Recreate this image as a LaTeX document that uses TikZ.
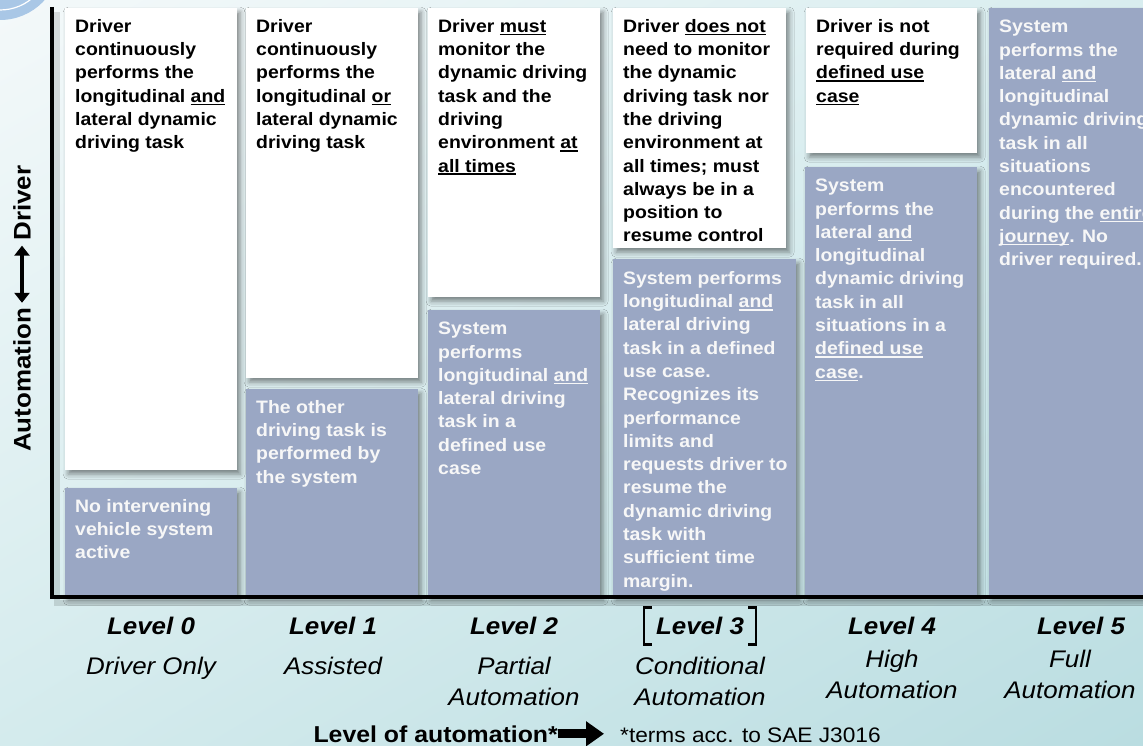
\documentclass[tikz,border=0pt]{standalone}
\usepackage{fontspec}
\setmainfont{Liberation Sans}[FakeStretch=1.08]
\usetikzlibrary{arrows.meta,shadows.blur,shadings}
\definecolor{sysblue}{HTML}{9AA7C4}
\definecolor{systext}{HTML}{F7F7F7}
\definecolor{logoblue}{HTML}{A9C7E6}
\definecolor{bgtl}{HTML}{F4F9FA}
\definecolor{bgtr}{HTML}{D8EDEF}
\definecolor{bgbl}{HTML}{D4EBED}
\definecolor{bgbr}{HTML}{BADDE1}
\newsavebox{\ulbox}
\newcommand{\ulw}[1]{\sbox\ulbox{#1}\rlap{\rule[-3pt]{\wd\ulbox}{1.6pt}}\usebox\ulbox}

\begin{document}
\begin{tikzpicture}[x=1pt,y=-1pt,
  drvbox/.style={fill=white, anchor=north west, minimum width=172, inner sep=0,
    blur shadow={shadow xshift=3pt, shadow yshift=-4pt, shadow blur radius=5pt, shadow opacity=45}},
  sysbox/.style={drvbox, fill=sysblue},
  drvtxt/.style={anchor=north west, inner sep=0, align=left, text=black,
    font=\fontsize{18}{23.3}\selectfont\bfseries},
  systxt/.style={drvtxt, text=systext},
  lvl/.style={anchor=base, inner sep=0, font=\fontsize{24}{30}\selectfont\bfseries\itshape},
  lvlname/.style={anchor=north, inner sep=0, align=center, font=\fontsize{24}{31}\selectfont\itshape},
  axislabel/.style={rotate=90, inner sep=0, font=\fontsize{24}{30}\selectfont\bfseries}]
\useasboundingbox (0,0) rectangle (1143,746);
\shade[upper left=bgtl, upper right=bgtr, lower left=bgbl, lower right=bgbr] (0,0) rectangle (1143,746);
% logo corner
\fill[logoblue] (0,-40) circle (60);
\draw[white, line width=1.2pt] (0,-40) circle (50);

% boxes: driver on top, system below
\node[drvbox, minimum height=462] (d0) at (65,8) {};
\node[sysbox, minimum height=108] (s0) at (65,488) {};
\node[drvbox, minimum height=370] (d1) at (246,8) {};
\node[sysbox, minimum height=207] (s1) at (246,389) {};
\node[drvbox, minimum height=289] (d2) at (428,8) {};
\node[sysbox, minimum height=286] (s2) at (428,310) {};
\node[drvbox, minimum width=173, minimum height=240] (d3) at (613,8) {};
\node[sysbox, minimum width=183, minimum height=337] (s3) at (613,259) {};
\node[drvbox, minimum width=171, minimum height=145] (d4) at (806,8) {};
\node[sysbox, minimum height=429] (s4) at (805,167) {};
\node[sysbox, minimum height=588] (s5) at (989,8) {};

% texts
\node[drvtxt] (t0d) at (75,19) {Driver\\continuously\\performs the\\longitudinal \ulw{and}\\lateral dynamic\\driving task};
\node[systxt] (t0s) at (75,499) {No intervening\\vehicle system\\active};
\node[drvtxt] (t1d) at (256,19) {Driver\\continuously\\performs the\\longitudinal \ulw{or}\\lateral dynamic\\driving task};
\node[systxt] (t1s) at (256,400) {The other\\driving task is\\performed by\\the system};
\node[drvtxt] (t2d) at (438,19) {Driver \ulw{must}\\monitor the\\dynamic driving\\task and the\\driving\\environment \ulw{at}\\\ulw{all times}};
\node[systxt] (t2s) at (438,322) {System\\performs\\longitudinal \ulw{and}\\lateral driving\\task in a\\defined use\\case};
\node[drvtxt] (t3d) at (623,19) {Driver \ulw{does not}\\need to monitor\\the dynamic\\driving task nor\\the driving\\environment at\\all times; must\\always be in a\\position to\\resume control};
\node[systxt] (t3s) at (623,271) {System performs\\longitudinal \ulw{and}\\lateral driving\\task in a defined\\use case.\\Recognizes its\\performance\\limits and\\requests driver to\\resume the\\dynamic driving\\task with\\sufficient time\\margin.};
\node[drvtxt] (t4d) at (816,19) {Driver is not\\required during\\\ulw{defined use}\\\ulw{case}};
\node[systxt] (t4s) at (815,179) {System\\performs the\\lateral \ulw{and}\\longitudinal\\dynamic driving\\task in all\\situations in a\\\ulw{defined use}\\\ulw{case}.};
\node[systxt] (t5s) at (999,20) {System\\performs the\\lateral \ulw{and}\\longitudinal\\dynamic driving\\task in all\\situations\\encountered\\during the \ulw{entire}\\\ulw{journey}. No\\driver required.};

% axes
\draw[black, opacity=0.12, line width=6pt] (57,12) -- (57,603) -- (1143,603);
\draw[line width=4pt] (52,7) -- (52,597) -- (1150,597);

% levels
\node[lvl] (l0) at (151,634) {Level 0};
\node[lvl] (l1) at (333,634) {Level 1};
\node[lvl] (l2) at (514,634) {Level 2};
\node[lvl] (l3) at (700,634) {Level 3};
\node[lvl] (l4) at (892,634) {Level 4};
\node[lvl] (l5) at (1081,634) {Level 5};
\node[lvlname] (n0) at (151,657) {Driver Only};
\node[lvlname] (n1) at (333,657) {Assisted};
\node[lvlname] (n2) at (514,657) {Partial\\Automation};
\node[lvlname] (n3) at (700,657) {Conditional\\Automation};
\node[lvlname] (n4) at (892,650) {High\\Automation};
\node[lvlname] (n5) at (1070,650) {Full\\Automation};
\draw[line width=2.5pt] ([shift={(-4,-9)}]l3.north west) -- ++(-8,0) -- ([shift={(-12,10)}]l3.south west) -- ++(8,0);
\draw[line width=2.5pt] ([shift={(4,-9)}]l3.north east) -- ++(8,0) -- ([shift={(12,10)}]l3.south east) -- ++(-8,0);

% axis names
\node[axislabel] (drv) at (22,203) {Driver};
\node[axislabel] (autom) at (22,380) {Automation};
\draw[line width=3.5pt, {Triangle[length=10pt,width=15pt]}-{Triangle[length=10pt,width=15pt]}, shorten <=5pt, shorten >=5pt] (autom.east) -- (drv.west);
\node[anchor=base east, inner sep=0, font=\fontsize{23}{28}\selectfont\bfseries] (autoname) at (558,742) {Level of automation*};
\node[anchor=base west, inner sep=0, font=\fontsize{21}{26}\selectfont] (terms) at (620,742) {*terms acc. to SAE J3016};
\draw[line width=9pt, -{Triangle[length=18pt,width=24pt]}, shorten >=16pt] (autoname.east) -- (autoname.east -| terms.west);
\end{tikzpicture}
\end{document}
